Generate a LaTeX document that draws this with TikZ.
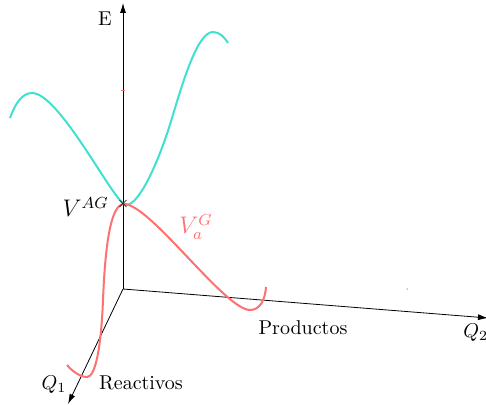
\documentclass[tikz,border=0pt]{standalone}
\usetikzlibrary{arrows.meta}
\definecolor{cyanc}{RGB}{64,224,208}
\definecolor{redc}{RGB}{255,112,112}
\begin{document}
\begin{tikzpicture}[x=0.5pt,y=-0.5pt,
  axis/.style={black,line width=0.4pt,-{Latex[length=5pt,width=3pt]}},
  curve/.style={line width=1pt}]
\clip (0,0) rectangle (486,405);
\useasboundingbox (0,0) rectangle (486,405);
\coordinate (O) at (123,289);
\coordinate (Etop) at (123,3);
\coordinate (Q2end) at (488,318);
\coordinate (Q1end) at (68,404);
\draw[axis] (O) -- (Etop);
\draw[axis] (O) -- (Q2end);
\draw[axis] (O) -- (Q1end);
\draw[cyanc,curve] (10,118) .. controls (15,104) and (22,93) .. (32,93)
  .. controls (60,93) and (115,205) .. (126,205)
  .. controls (140,205) and (160,158) .. (172,118)
  .. controls (184,78) and (198,32) .. (213,32)
  .. controls (220,32) and (225,38) .. (228,43);
\draw[redc,curve] (67,365) .. controls (72,371) and (80,377) .. (87,377)
  .. controls (95,377) and (101,350) .. (103,300)
  .. controls (105,250) and (110,204) .. (124,204)
  .. controls (150,204) and (225,310) .. (250,310)
  .. controls (260,310) and (265,300) .. (266,287);
\draw[redc,line width=0.4pt] (121,90) -- (125,90);
\fill[black] (407,289) circle (0.5);
\node[font=\scriptsize,inner sep=0pt] (X) at (123,204) {$\times$};
\node[inner sep=0pt] (E) at (105,19) {E};
\node[inner sep=0pt,anchor=east,font=\large] (VAG) at (109,207) {$V^{AG}$};
\node[inner sep=0pt,text=redc,font=\large] (VaG) at (196,227) {$V_a^G$};
\node[inner sep=0pt] (P) at (303,328) {Productos};
\node[inner sep=0pt,anchor=west] (Q2) at (463,333) {$Q_2$};
\node[inner sep=0pt] (Q1) at (54,385) {$Q_1$};
\node[inner sep=0pt] (R) at (141,383) {Reactivos};
\end{tikzpicture}
\end{document}
